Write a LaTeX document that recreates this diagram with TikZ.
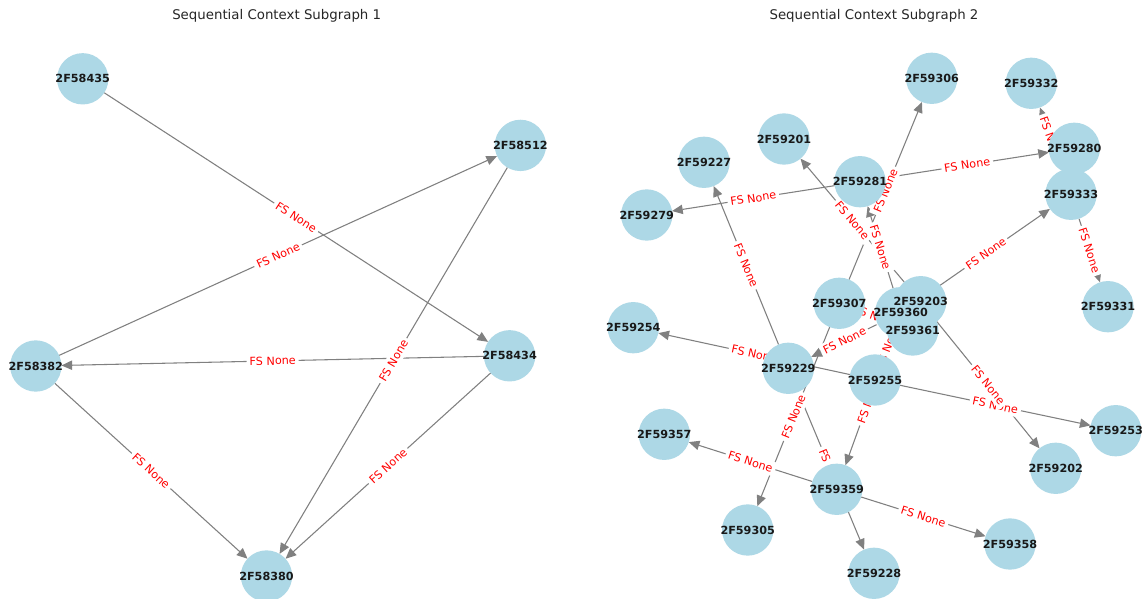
\documentclass[tikz,border=0pt]{standalone}
\usepackage{fontspec}
\setmainfont{DejaVu Sans}
\usetikzlibrary{arrows.meta}
\pgfdeclarelayer{bglayer}
\pgfdeclarelayer{edgelayer}
\pgfdeclarelayer{elabellayer}
\pgfdeclarelayer{textlayer}
\pgfsetlayers{bglayer,edgelayer,elabellayer,main,textlayer}
\definecolor{nodeblue}{RGB}{173,216,230}
\definecolor{edgegray}{RGB}{128,128,128}
\definecolor{titlegray}{RGB}{38,38,38}
\definecolor{labelred}{RGB}{255,0,0}
\newcommand\fsedge[2]{%
  \begin{pgfonlayer}{edgelayer}\draw[conn] (#1) -- (#2);\end{pgfonlayer}%
  \begin{pgfonlayer}{elabellayer}\path (#1) -- (#2) node[elab]{FS None};\end{pgfonlayer}}
\newcommand\vertex[3]{%
  \node[vtx] (#1) at (#2) {};%
  \begin{pgfonlayer}{textlayer}\node[vlab] at (#1) {#3};\end{pgfonlayer}}
\begin{document}
\begin{tikzpicture}[x=0.75pt,y=-0.75pt,
  vtx/.style={circle,fill=nodeblue,minimum size=38.5pt,inner sep=0pt,outer sep=0pt},
  vlab/.style={font=\fontsize{8.4}{10}\selectfont\bfseries,text=black!90,inner sep=0pt},
  conn/.style={draw=edgegray,line width=0.8pt,-{Triangle[length=8pt,width=7pt]}},
  elab/.style={font=\fontsize{8.4}{10}\selectfont,text=labelred,fill=white,inner sep=2.2pt,sloped,midway},
  ttl/.style={font=\fontsize{10}{12}\selectfont,text=titlegray}]
\useasboundingbox (0,0) rectangle (1146,599);
\begin{pgfonlayer}{bglayer}\fill[white] (0,0) rectangle (1146,599);\end{pgfonlayer}

% titles
\node[ttl] (t1) at (276.7,16) {Sequential Context Subgraph 1};
\node[ttl] (t2) at (874,16) {Sequential Context Subgraph 2};

% subgraph 1 nodes
\vertex{a435}{82.7,78.8}{2F58435}
\vertex{a512}{520.4,145.4}{2F58512}
\vertex{a382}{35.8,366}{2F58382}
\vertex{a434}{509.6,355.8}{2F58434}
\vertex{a380}{266.5,576}{2F58380}

% subgraph 2 nodes
\vertex{b306}{931.7,78.3}{2F59306}
\vertex{b332}{1031.3,83.3}{2F59332}
\vertex{b201}{784,139}{2F59201}
\vertex{b227}{704,162.3}{2F59227}
\vertex{b281}{860,181.7}{2F59281}
\vertex{b280}{1074.3,148.3}{2F59280}
\vertex{b279}{646.7,215}{2F59279}
\vertex{b333}{1071,194.3}{2F59333}
\vertex{b331}{1108,306.7}{2F59331}
\vertex{b254}{633.3,327.7}{2F59254}
\vertex{b307}{839.3,303.3}{2F59307}
\vertex{b203}{920.7,301.7}{2F59203}
\vertex{b360}{900.7,312.7}{2F59360}
\vertex{b361}{912.7,330}{2F59361}
\vertex{b229}{788.3,368.3}{2F59229}
\vertex{b255}{875,380}{2F59255}
\vertex{b253}{1115.7,430.7}{2F59253}
\vertex{b357}{664.3,434.3}{2F59357}
\vertex{b202}{1055.7,468.3}{2F59202}
\vertex{b359}{836.7,489.3}{2F59359}
\vertex{b305}{747.7,530}{2F59305}
\vertex{b358}{1010,544}{2F59358}
\vertex{b228}{874,573.3}{2F59228}

% subgraph 1 edges
\fsedge{a435}{a434}
\fsedge{a382}{a512}
\fsedge{a434}{a382}
\fsedge{a512}{a380}
\fsedge{a382}{a380}
\fsedge{a434}{a380}

% subgraph 2 edges
\fsedge{b281}{b279}
\fsedge{b281}{b280}
\fsedge{b333}{b332}
\fsedge{b333}{b331}
\fsedge{b360}{b333}
\fsedge{b307}{b306}
\fsedge{b203}{b201}
\fsedge{b360}{b281}
\fsedge{b360}{b229}
\fsedge{b360}{b359}
\fsedge{b255}{b360}
\fsedge{b307}{b361}
\fsedge{b307}{b305}
\fsedge{b229}{b227}
\fsedge{b229}{b228}
\fsedge{b255}{b254}
\fsedge{b255}{b253}
\fsedge{b203}{b202}
\fsedge{b359}{b357}
\fsedge{b359}{b358}
\end{tikzpicture}
\end{document}
